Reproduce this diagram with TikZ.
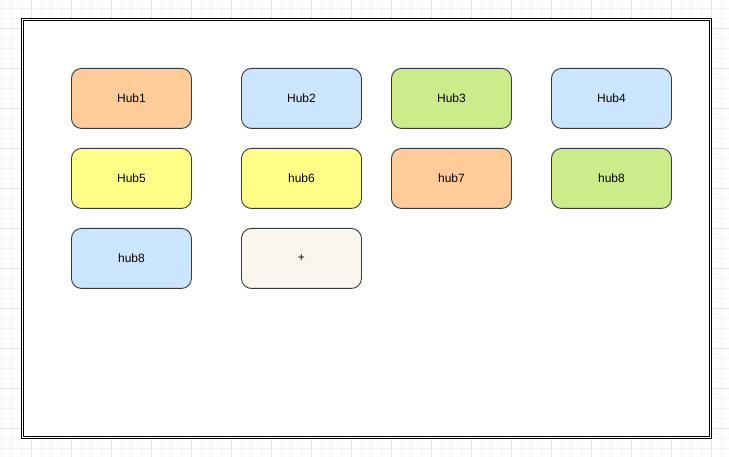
\documentclass[tikz,border=0pt]{standalone}
\usepackage{fontspec}
\setmainfont{Liberation Sans}
\definecolor{gridminor}{HTML}{F4F4F4}
\definecolor{gridmajor}{HTML}{E6E6E6}
\definecolor{hubstroke}{HTML}{36393D}
\definecolor{hubpeach}{HTML}{FFCC99}
\definecolor{hubblue}{HTML}{CCE5FF}
\definecolor{hubgreen}{HTML}{CDEB8B}
\definecolor{hubyellow}{HTML}{FFFF88}
\definecolor{hubcream}{HTML}{F9F7ED}
\tikzset{
  hub/.style={draw=hubstroke, line width=0.9pt, rounded corners=10pt,
    minimum width=120pt, minimum height=60pt, inner sep=0pt,
    anchor=north west, font=\fontsize{12pt}{14pt}\selectfont},
}
\begin{document}
\begin{tikzpicture}[x=1pt,y=-1pt]
  \useasboundingbox (0,0) rectangle (729,457);
  \fill[white] (0,0) rectangle (729,457);
  % background grid
  \foreach \gx in {1,11,...,721} \draw[gridminor, line width=0.8pt] (\gx,0) -- (\gx,457);
  \foreach \gy in {8,18,...,448} \draw[gridminor, line width=0.8pt] (0,\gy) -- (729,\gy);
  \foreach \gx in {31,71,...,711} \draw[gridmajor, line width=0.8pt] (\gx,0) -- (\gx,457);
  \foreach \gy in {28,68,...,448} \draw[gridmajor, line width=0.8pt] (0,\gy) -- (729,\gy);
  % double frame
  \fill[white] (21,19) rectangle (711,438);
  \draw[black, line width=1pt] (21,19) rectangle (711,438);
  \draw[black, line width=1pt] (23,21) rectangle (709,436);
  % hubs
  \node[hub, fill=hubpeach]  (h1) at (71,68)   {Hub1};
  \node[hub, fill=hubblue]   (h2) at (241,68)  {Hub2};
  \node[hub, fill=hubgreen]  (h3) at (391,68)  {Hub3};
  \node[hub, fill=hubblue]   (h4) at (551,68)  {Hub4};
  \node[hub, fill=hubyellow] (h5) at (71,148)  {Hub5};
  \node[hub, fill=hubyellow] (h6) at (241,148) {hub6};
  \node[hub, fill=hubpeach]  (h7) at (391,148) {hub7};
  \node[hub, fill=hubgreen]  (h8) at (551,148) {hub8};
  \node[hub, fill=hubblue]   (h9) at (71,228)  {hub8};
  \node[hub, fill=hubcream]  (hadd) at (241,228) {+};
\end{tikzpicture}
\end{document}
